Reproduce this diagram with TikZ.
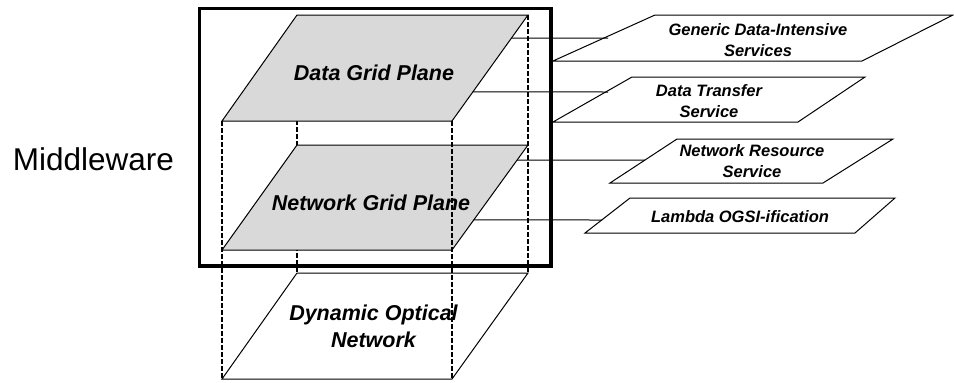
\documentclass[tikz,border=0pt]{standalone}
\usepackage{fontspec}
\setmainfont{Liberation Sans}
\usetikzlibrary{calc}
\definecolor{planegray}{RGB}{217,217,217}
\begin{document}
\begin{tikzpicture}[x=1pt,y=-1pt,
  plane/.style={draw=black, line width=1pt, fill=planegray},
  openplane/.style={draw=black, line width=1pt},
  edgedash/.style={line width=1.9pt, dash pattern=on 4.5pt off 2.5pt},
  frame/.style={line width=3.6pt},
  conn/.style={line width=1pt},
  panel/.style={draw=black, line width=1pt},
  planetext/.style={font=\bfseries\itshape\fontsize{21.5}{27}\selectfont, align=center, inner sep=0pt},
  paneltext/.style={font=\bfseries\itshape\fontsize{16.5}{21}\selectfont, align=center, inner sep=0pt},
  midtext/.style={font=\fontsize{31.5}{36}\selectfont, inner sep=0pt},
]
\useasboundingbox (0,0) rectangle (954,383);

% plane corners
\coordinate (D1) at (297,15);  \coordinate (D2) at (528,15);
\coordinate (D3) at (452,121); \coordinate (D4) at (222,121);
\coordinate (N1) at (297,145); \coordinate (N2) at (528,145);
\coordinate (N3) at (452,250); \coordinate (N4) at (222,250);
\coordinate (B1) at (297,273); \coordinate (B2) at (528,273);
\coordinate (B3) at (452,379); \coordinate (B4) at (222,379);

% back vertical edges (hidden behind the filled planes)
\draw[edgedash] (D1) -- (B1);
\draw[edgedash] (D2) -- (B2);

% bottom plane
\draw[openplane] (B1) -- (B2) -- (B3) -- (B4) -- cycle;

% filled planes
\draw[plane] (D1) -- (D2) -- (D3) -- (D4) -- cycle;
\draw[plane] (N1) -- (N2) -- (N3) -- (N4) -- cycle;

% front vertical edges
\draw[edgedash] (D4) -- (B4);
\draw[edgedash] (D3) -- (B3);

% middleware frame
\coordinate (F1) at (199.5,8.5);
\coordinate (F2) at (551,266);
\draw[frame] (F1) rectangle (F2);

% side panels
\coordinate (P1a) at (655,15);  \coordinate (P1b) at (953,15);
\coordinate (P1c) at (862,61);  \coordinate (P1d) at (553,61);
\coordinate (P2a) at (632,77);  \coordinate (P2b) at (865,77);
\coordinate (P2c) at (798,122); \coordinate (P2d) at (553,122);
\coordinate (P3a) at (677,139); \coordinate (P3b) at (893,139);
\coordinate (P3c) at (823,183); \coordinate (P3d) at (610,183);
\coordinate (P4a) at (630,198); \coordinate (P4b) at (895,198);
\coordinate (P4c) at (855,233); \coordinate (P4d) at (585,233);
\draw[panel] (P1a) -- (P1b) -- (P1c) -- (P1d) -- cycle;
\draw[panel] (P2a) -- (P2b) -- (P2c) -- (P2d) -- cycle;
\draw[panel] (P3a) -- (P3b) -- (P3c) -- (P3d) -- cycle;
\draw[panel] (P4a) -- (P4b) -- (P4c) -- (P4d) -- cycle;

% connectors
\coordinate (c1s) at ($(D2)!0.217!(D3)$);
\coordinate (c2s) at ($(D2)!0.726!(D3)$);
\coordinate (c3s) at ($(N2)!0.143!(N3)$);
\coordinate (c4s) at ($(N2)!0.714!(N3)$);
\coordinate (c1e) at (608,38);
\coordinate (c2e) at (608,92);
\coordinate (c3e) at (645,160);
\coordinate (c4e) at (602,220);
\draw[conn] (c1s) -- (c1e);
\draw[conn] (c2s) -- (c2e);
\draw[conn] (c3s) -- (c3e);
\draw[conn] (c4s) -- (c4e);

% texts
\node[planetext, anchor=base] (tdata) at (374,80) {Data Grid Plane};
\node[planetext, anchor=base] (tnet) at (371,210) {Network Grid Plane};
\node[planetext] (topt) at (373.5,326.7) {Dynamic Optical\\Network};
\node[midtext, anchor=base] (tmid) at (93.5,170) {Middleware};

\node[paneltext] (tp1) at (758,40) {Generic Data-Intensive\\Services};
\node[paneltext] (tp2) at (709,101) {Data Transfer\\Service};
\node[paneltext] (tp3) at (752,161.5) {Network Resource\\Service};
\node[paneltext, anchor=base] (tp4) at (740,222) {Lambda OGSI-ification};
\end{tikzpicture}
\end{document}
